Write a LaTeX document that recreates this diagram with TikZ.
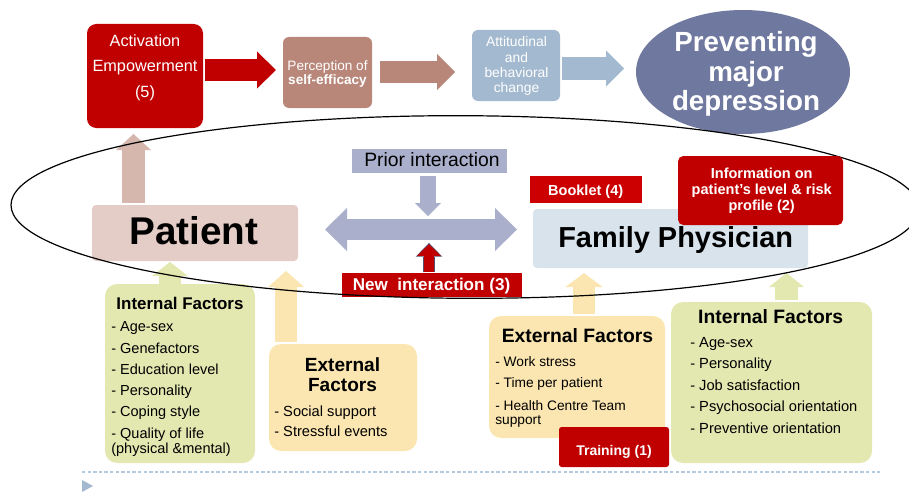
\documentclass[tikz,border=0pt]{standalone}
\usepackage{fontspec}
\setmainfont{Liberation Sans}
\usetikzlibrary{arrows.meta,calc,shapes.geometric}
\definecolor{dred}{HTML}{C00000}
\definecolor{bred}{HTML}{CC0000}
\definecolor{brn}{HTML}{B8877A}
\definecolor{lblue}{HTML}{A3B9CF}
\definecolor{slate}{HTML}{6F789F}
\definecolor{pinkb}{HTML}{E4CDC6}
\definecolor{pinka}{HTML}{D5B7AD}
\definecolor{lav}{HTML}{AAB0CB}
\definecolor{fpc}{HTML}{D8E3EB}
\definecolor{grn}{HTML}{E3E8B1}
\definecolor{ylw}{HTML}{FBE6B1}
\definecolor{dashc}{HTML}{B3C9DD}
\definecolor{outl}{HTML}{54506E}
\tikzset{
  box/.style={inner sep=0pt, outer sep=0pt},
  sz/.style 2 args={minimum width=#1*0.75pt, minimum height=#2*0.75pt},
  txt/.style={inner sep=0pt, anchor=base},
  ltxt/.style={inner sep=0pt, anchor=base west},
  blk/.style n args={3}{line width=#1, -{Triangle[length=#3, width=#2, line width=0pt]}},
  dblk/.style n args={3}{line width=#1, {Triangle[length=#3, width=#2, line width=0pt]}-{Triangle[length=#3, width=#2, line width=0pt]}},
  fs/.style 2 args={font=\fontsize{#1}{#2}\selectfont},
  fb/.style 2 args={font=\fontsize{#1}{#2}\selectfont\bfseries},
}
\begin{document}
\begin{tikzpicture}[x=0.75pt,y=-0.75pt]
\useasboundingbox (0,0) rectangle (909,492);

% ---------- top row ----------
\node[box, sz={116}{104}, fill=dred, rounded corners=7pt] (act) at (145,76) {};
\node[txt, white, fs={12.2}{14}] (act1) at (145,46.7) {Activation};
\node[txt, white, fs={12.2}{14}] (act2) at (145,71.7) {Empowerment};
\node[txt, white, fs={12.2}{14}] (act3) at (145,97) {(5)};

\node[box, sz={89}{71}, fill=brn, rounded corners=4.5pt] (perc) at (327.5,72.5) {};
\node[txt, white, fs={10.2}{12}] (perc1) at (327.5,70) {Perception of};
\node[txt, white, fb={10.2}{12}] (perc2) at (327.5,84.5) {self-efficacy};

\node[box, sz={88}{71}, fill=lblue, rounded corners=4.5pt] (att) at (516,65.5) {};
\node[txt, white, fs={10.4}{12}] (att1) at (516.5,46.7) {Attitudinal};
\node[txt, white, fs={10.4}{12}] (att2) at (516.5,62.2) {and};
\node[txt, white, fs={10.4}{12}] (att3) at (516.5,77.5) {behavioral};
\node[txt, white, fs={10.4}{12}] (att4) at (516.5,92.5) {change};

\node[box, ellipse, sz={214}{124}, fill=slate] (prev) at (743,72) {};
\node[txt, white, fb={20.8}{24}] (prev1) at (746,52) {Preventing};
\node[txt, white, fb={20.8}{24}] (prev2) at (746,81) {major};
\node[txt, white, fb={20.8}{24}] (prev3) at (746,110) {depression};

% ---------- middle row ----------
\node[box, sz={206}{56}, fill=pinkb, rounded corners=3pt] (patient) at (195,233) {};
\node[txt, fb={29}{32}] (patientt) at (194,244.3) {Patient};

\node[box, sz={155}{24}, fill=lav] (prior) at (429.5,161) {};
\node[txt, fs={14.5}{16}] (priort) at (432,166.7) {Prior interaction};

\node[box, sz={180}{24}, fill=dred] (newint) at (432,285) {};
\node[txt, white, fb={12.8}{14}] (newintt) at (431.5,290.7) {New\ \ interaction (3)};

\node[box, sz={275}{59}, fill=fpc, rounded corners=3pt] (fp) at (670.5,238.5) {};
\node[txt, fb={21.7}{24}] (fpt) at (675.7,247.3) {Family Physician};

\node[box, sz={112}{27}, fill=bred] (booklet) at (586,189.5) {};
\node[txt, white, fb={10.9}{12}] (bookt) at (585.7,195) {Booklet (4)};

% ---------- bottom boxes ----------
\node[box, sz={150}{179}, fill=grn, rounded corners=9pt] (intL) at (180,373.5) {};
\node[txt, fb={12.7}{14}] (intLt) at (180,309) {Internal Factors};
\foreach \t [count=\i] in {- Age-sex, - Genefactors, - Education level, - Personality, - Coping style, - Quality of life}
  \node[ltxt, fs={10.9}{12}] (intL\i) at (111,{331.7+21.3*(\i-1)}) {\t};
\node[ltxt, fs={10.9}{12}] (intL7) at (111,453) {(physical \&mental)};

\node[box, sz={148}{107}, fill=ylw, rounded corners=9pt] (extL) at (343,397.5) {};
\node[txt, fb={14.3}{16}] (extLt1) at (342.5,371) {External};
\node[txt, fb={14.3}{16}] (extLt2) at (342.5,391) {Factors};
\node[ltxt, fs={11}{12}] (extL1) at (274,416) {- Social support};
\node[ltxt, fs={11}{12}] (extL2) at (274,436.7) {- Stressful events};

\node[box, sz={176}{122}, fill=ylw, rounded corners=9pt] (extR) at (577,377) {};
\node[txt, fb={14.5}{16}] (extRt) at (577.5,342.7) {External Factors};
\node[ltxt, fs={10.3}{12}] (extR1) at (495,366.7) {- Work stress};
\node[ltxt, fs={10.3}{12}] (extR2) at (495,387.7) {- Time per patient};
\node[ltxt, fs={10.3}{12}] (extR3) at (495,410) {- Health Centre Team};
\node[ltxt, fs={10.3}{12}] (extR4) at (495,424.3) {support};

\node[box, sz={110}{40}, fill=dred, rounded corners=2pt] (training) at (614,447) {};
\node[txt, white, fb={10.5}{12}] (traint) at (614,455) {Training (1)};

\node[box, sz={201}{161}, fill=grn, rounded corners=9pt] (intR) at (771.5,382.5) {};
\node[txt, fb={14.5}{16}] (intRt) at (770.7,323.3) {Internal Factors};
\node[ltxt, fs={11}{12}] (intR1) at (690,347.3) {- Age-sex};
\node[ltxt, fs={11}{12}] (intR2) at (690,368.3) {- Personality};
\node[ltxt, fs={11}{12}] (intR3) at (690,390) {- Job satisfaction};
\node[ltxt, fs={11}{12}] (intR4) at (690,411.7) {- Psychosocial orientation};
\node[ltxt, fs={11}{12}] (intR5) at (690,433.3) {- Preventive orientation};

% ---------- block arrows ----------
\draw[blk={16.5pt}{27.75pt}{14.25pt}, draw=dred] ($(act.east)+(2,-6)$) -- ($(perc.west)+(-7,-2.5)$);
\draw[blk={16.5pt}{27pt}{13.5pt}, draw=brn] ($(perc.east)+(8,-0.5)$) -- ($(att.west)+(-17,6.5)$);
\draw[blk={17.25pt}{27pt}{13.5pt}, draw=lblue] ($(att.east)+(2,3)$) -- ($(prev.west)+(-12,-3.5)$);
\draw[blk={17.25pt}{26.25pt}{12pt}, draw=pinka] ($(patient.north)+(-61.5,-2)$) -- ($(act.south)+(-11.5,6)$);

\draw[dblk={15.75pt}{32.25pt}{16.5pt}, draw=lav] ($(patient.east)+(27,-3.5)$) -- coordinate[pos=0.55] (dmid) ($(fp.west)+(-16,-9)$);
\coordinate (pb) at ($(prior.south)+(-1.5,0)$);
\coordinate (nb) at ($(newint.north)+(-3,0)$);
\draw[blk={12pt}{19.5pt}{9.75pt}, draw=lav, shorten <=2.25pt, shorten >=10.1pt] (pb) -- (pb |- dmid);
\draw[blk={9.3pt}{20pt}{10.3pt}, draw=outl, shorten <=0.75pt, shorten >=10.1pt] (nb) -- (nb |- dmid);
\draw[blk={7.5pt}{17.5pt}{8.6pt}, draw=dred, shorten <=0.75pt, shorten >=11.1pt] (nb) -- (nb |- dmid);

\draw[blk={16.5pt}{27pt}{10.5pt}, draw=grn] ($(intL.north)+(-10,0)$) -- ($(patient.south)+(-25,1)$);
\draw[blk={16.5pt}{27pt}{12pt}, draw=ylw] ($(extL.north)+(-57,-2)$) -- ($(patient.south)+(91,10)$);
\draw[blk={16.5pt}{27.75pt}{10.5pt}, draw=ylw] ($(extR.north)+(7,-2)$) -- ($(fp.south)+(-86.5,5)$);
\draw[blk={17.25pt}{26.25pt}{10.5pt}, draw=grn] ($(intR.north)+(15,-2)$) -- ($(fp.south)+(116,5)$);

% ---------- big ring ----------
\node[draw, ellipse, line width=0.9pt, sz={908}{182.6}, inner sep=0pt, rotate=-0.25] (ring) at (465,207) {};

% ---------- info box on top ----------
\node[box, sz={165}{69}, fill=dred, rounded corners=4pt] (info) at (760.5,190.5) {};
\node[txt, white, fb={10.9}{12}] (info1) at (761.7,178.3) {Information on};
\node[txt, white, fb={10.9}{12}] (info2) at (761.7,194.3) {patient’s level \& risk};
\node[txt, white, fb={10.9}{12}] (info3) at (761.7,210.7) {profile (2)};

% ---------- footer ----------
\coordinate (d1) at (82,472);
\coordinate (d2) at (880,472);
\draw[dashc, line width=1pt, dash pattern=on 2.6pt off 1.6pt] (d1) -- (d2);
\fill[lblue] (82,480) -- (93,486) -- (82,492) -- cycle;
\end{tikzpicture}
\end{document}
